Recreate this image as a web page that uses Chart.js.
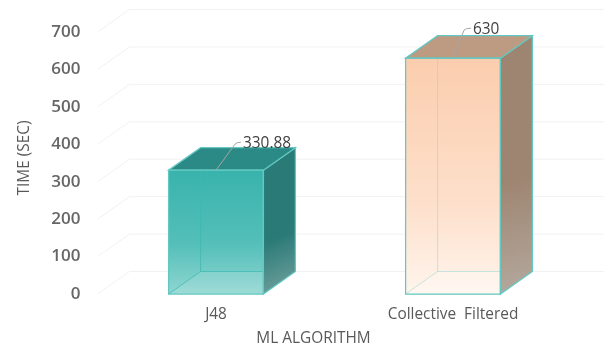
<!DOCTYPE html>
<html>
<head>
<meta charset="utf-8">
<title>Time by ML algorithm</title>
<script src="https://cdn.jsdelivr.net/npm/chart.js@4"></script>
<style>
  html, body { margin: 0; background: #fff; }
  canvas { display: block; }
</style>
</head>
<body>
<canvas id="time-chart" width="610" height="347"></canvas>
<script>
// Chart data
const categories = ["J48", "Collective  Filtered"];
const timeValues = [330.88, 630];
const valueLabels = ["330.88", "630"];
const yTicks = [0, 100, 200, 300, 400, 500, 600, 700];

// Per-bar face colours: [top of gradient, middle, bottom of gradient]
const frontColors = [["#38b3ac", "#55bfb9", "#8fd6d1"], ["#fbcdae", "#fddfca", "#fff4ec"]];
const sideColors = [["#2a7a77", "#7fa8a5"], ["#9e8571", "#b5aaa0"]];
const topColors = ["#2b8a85", "#bd9a82"];
const floorColors = ["rgba(255,255,255,0.12)", "rgba(255,255,255,0.25)"];
const innerEdgeColors = ["rgba(60,185,178,0.75)", "rgba(150,215,208,0.55)"];
const edgeColor = "#62c8c1";

const depthX = 32;
const depthY = 22.5;
const fontName = '"Open Sans", sans-serif';

function polygon(ctx, points, fill, stroke) {
    ctx.beginPath();
    points.forEach((p, i) => i ? ctx.lineTo(p[0], p[1]) : ctx.moveTo(p[0], p[1]));
    ctx.closePath();
    ctx.fillStyle = fill;
    ctx.fill();
    if (stroke) {
        ctx.strokeStyle = stroke;
        ctx.lineWidth = 1.25;
        ctx.stroke();
    }
}

// Back wall gridlines, with the short diagonal running to the front plane
const wallGrid = {
    id: "wallGrid",
    beforeDatasetsDraw(chart) {
        const { ctx, chartArea, scales } = chart;
        ctx.save();
        ctx.strokeStyle = "#f1f1f1";
        ctx.lineWidth = 1;
        yTicks.forEach(tick => {
            const y = scales.y.getPixelForValue(tick);
            ctx.beginPath();
            ctx.moveTo(chartArea.left, y);
            ctx.lineTo(chartArea.left + depthX, y - depthY);
            ctx.lineTo(chartArea.right + depthX, y - depthY);
            ctx.stroke();
        });
        ctx.restore();
    }
};

// Extrudes each bar into a box and adds the value callouts
const boxFaces = {
    id: "boxFaces",
    afterDatasetsDraw(chart) {
        const { ctx } = chart;
        ctx.save();
        chart.getDatasetMeta(0).data.forEach((bar, i) => {
            const left = bar.x - bar.width / 2;
            const right = bar.x + bar.width / 2;
            const top = bar.y;
            const base = bar.base;

            // floor and hidden edges show through the front face
            polygon(ctx, [[left, base], [right, base], [right + depthX, base - depthY], [left + depthX, base - depthY]], floorColors[i]);
            ctx.strokeStyle = innerEdgeColors[i];
            ctx.lineWidth = 1;
            ctx.beginPath();
            ctx.moveTo(left, base);
            ctx.lineTo(left + depthX, base - depthY);
            ctx.lineTo(right + depthX, base - depthY);
            ctx.moveTo(left + depthX, base - depthY);
            ctx.lineTo(left + depthX, top - depthY);
            ctx.stroke();

            const side = ctx.createLinearGradient(right, top, right + depthX + 20, base);
            side.addColorStop(0, sideColors[i][0]);
            side.addColorStop(0.5, sideColors[i][0]);
            side.addColorStop(1, sideColors[i][1]);
            polygon(ctx, [[right, top], [right + depthX, top - depthY], [right + depthX, base - depthY], [right, base]], side, edgeColor);
            polygon(ctx, [[left, top], [right, top], [right + depthX, top - depthY], [left + depthX, top - depthY]], topColors[i], edgeColor);
            polygon(ctx, [[left, top], [right, top], [right, base], [left, base]], "rgba(0,0,0,0)", edgeColor);

            // leader line from the top edge up to the label
            const tall = i === 1;
            const bendX = bar.x + (tall ? 11 : 19);
            const bendY = top - (tall ? 28 : 26);
            const endX = bendX + (tall ? 7 : 6);
            ctx.strokeStyle = "#a6a6a6";
            ctx.lineWidth = 1;
            ctx.beginPath();
            ctx.moveTo(bar.x, top);
            ctx.lineTo(bendX, bendY);
            ctx.quadraticCurveTo(bendX + 1.5, bendY - 2, endX, bendY - 2);
            ctx.stroke();

            ctx.fillStyle = "#404040";
            ctx.font = "15.4px " + fontName;
            ctx.textAlign = "left";
            ctx.textBaseline = "middle";
            ctx.fillText(valueLabels[i], endX + 2, bendY - 1);
        });

        // axis titles
        ctx.fillStyle = "#595959";
        ctx.font = "15.4px " + fontName;
        ctx.textAlign = "center";
        ctx.textBaseline = "middle";
        ctx.fillText("ML ALGORITHM", 313.5, 338.5);
        ctx.translate(25, 158);
        ctx.rotate(-Math.PI / 2);
        ctx.fillText("TIME (SEC)", 0, 0);
        ctx.restore();
    }
};

function frontGradient(context) {
    const { chart, dataIndex } = context;
    const y = chart.scales.y;
    const yTop = y ? y.getPixelForValue(timeValues[dataIndex]) : NaN;
    const yBase = y ? y.getPixelForValue(0) : NaN;
    if (!isFinite(yTop) || !isFinite(yBase)) return frontColors[dataIndex][0];
    const g = chart.ctx.createLinearGradient(0, yTop, 0, yBase);
    g.addColorStop(0, frontColors[dataIndex][0]);
    g.addColorStop(0.6, frontColors[dataIndex][1]);
    g.addColorStop(1, frontColors[dataIndex][2]);
    return g;
}

new Chart(document.getElementById("time-chart"), {
    type: "bar",
    data: {
        labels: categories,
        datasets: [{
            label: "Time (sec)",
            data: timeValues,
            backgroundColor: frontGradient,
            borderWidth: 0,
            barPercentage: 0.4,
            categoryPercentage: 1
        }]
    },
    plugins: [wallGrid, boxFaces],
    options: {
        responsive: false,
        animation: false,
        layout: { padding: { top: 32, right: 38.5 } },
        plugins: { legend: { display: false }, tooltip: { enabled: false } },
        scales: {
            x: {
                grid: { display: false },
                border: { display: false },
                afterFit(scale) { scale.height = 53; },
                ticks: { color: "#595959", font: { family: fontName, size: 15.4 }, padding: 3, maxRotation: 0 }
            },
            y: {
                min: 0,
                max: 700,
                afterFit(scale) { scale.width = 97.5; },
                grid: { display: false, drawTicks: false },
                border: { display: false },
                afterBuildTicks(scale) { scale.ticks = yTicks.map(value => ({ value })); },
                ticks: { color: "#666666", font: { family: fontName, size: 17, weight: "600" }, padding: 17 }
            }
        }
    }
});
</script>
</body>
</html>
